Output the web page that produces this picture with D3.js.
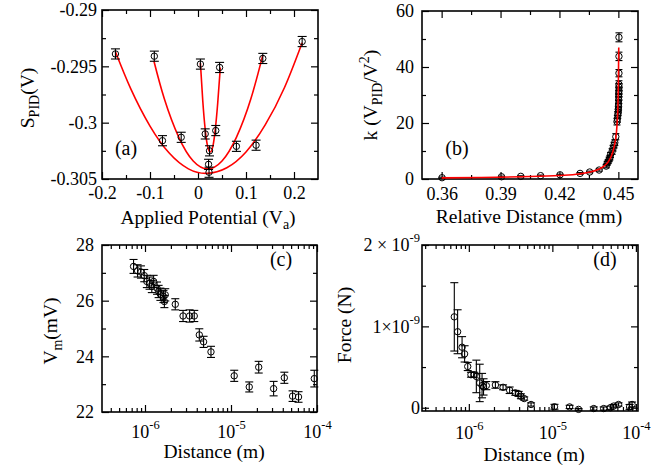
<!DOCTYPE html>
<meta charset="utf-8">
<style>
body { margin: 0; background: #fff; }
svg { font-family: "Liberation Serif", "DejaVu Serif", serif; }
.axis line { stroke: #000; stroke-width: 1.2; }
.axis text { font: 18px "Liberation Serif", serif; fill: #000; }
.title { font-size: 19.5px; fill: #000; }
.plabel { font-size: 20px; fill: #000; }
</style>
<body>
<svg width="672" height="473"></svg>
<script src="https://d3js.org/d3.v7.min.js"></script>
<script>

// ---- panel (a): S_PID vs applied potential, three scans ----
var potWide  = [-0.172, -0.074, 0.023, 0.121, 0.217];
var spidWide = [-0.2939, -0.3016, -0.3044, -0.3020, -0.2928];
var potMid   = [-0.091, -0.035, 0.022, 0.080, 0.135];
var spidMid  = [-0.2941, -0.3013, -0.3037, -0.3021, -0.2943];
var potNar   = [0.005, 0.015, 0.024, 0.037, 0.045];
var spidNar  = [-0.2948, -0.3010, -0.3025, -0.3007, -0.2951];
var spidErr  = 0.00045;

// fitted curves
var fitWideX = [-0.172, -0.14, -0.10, -0.06, -0.02, 0.019, 0.06, 0.10, 0.14, 0.18, 0.217];
var fitWideY = [-0.2937, -0.2970, -0.3003, -0.3027, -0.3041, -0.3045, -0.3040, -0.3026, -0.3002, -0.2969, -0.2929];
var fitMidX  = [-0.092, -0.07, -0.04, -0.01, 0.02, 0.05, 0.08, 0.11, 0.135];
var fitMidY  = [-0.2945, -0.2979, -0.3013, -0.3034, -0.3041, -0.3034, -0.3013, -0.2979, -0.2940];
var fitNarX  = [0.005, 0.010, 0.015, 0.020, 0.0255, 0.031, 0.036, 0.041, 0.0465];
var fitNarY  = [-0.2947, -0.2981, -0.3006, -0.3021, -0.3026, -0.3021, -0.3006, -0.2983, -0.2951];

var xTicksA = [-0.2, -0.1, 0, 0.1, 0.2];
var xLabelsA = ["-0.2", "-0.1", "0", "0.1", "0.2"];
var xMinorA = [-0.15, -0.05, 0.05, 0.15];
var yTicksA = [-0.29, -0.295, -0.3, -0.305];
var yLabelsA = ["-0.29", "-0.295", "-0.3", "-0.305"];
var yMinorA = [-0.2925, -0.2975, -0.3025];

// ---- panel (b): k vs relative distance ----
var relDist = [0.3602, 0.3905, 0.4003, 0.4104, 0.4203, 0.4305, 0.4354, 0.4402, 0.4438, 0.4443,
               0.4448, 0.4453, 0.4457, 0.4460, 0.4468, 0.4473, 0.4478, 0.4482, 0.4487, 0.4493,
               0.4495, 0.4497, 0.4499, 0.4500, 0.4501, 0.4501, 0.4502, 0.4502, 0.4502, 0.4503,
               0.4503, 0.4503, 0.4503, 0.4503, 0.4503];
var kVal    = [0.46, 0.8, 0.95, 1.2, 1.5, 2.0, 2.5, 3.2, 4.6, 5.6,
               6.2, 7.0, 7.6, 8.6, 9.8, 11.0, 12.1, 13.0, 15.1, 20.5,
               21.5, 22.9, 23.8, 24.8, 25.8, 26.8, 28.2, 29.4, 30.5, 31.5,
               32.8, 33.8, 37.8, 43.8, 50.6];
var kErr    = [0.2, 0.2, 0.2, 0.2, 0.2, 0.3, 0.3, 0.4, 0.6, 0.7,
               0.7, 0.8, 0.8, 0.9, 1.0, 1.0, 1.0, 1.0, 1.1, 1.2,
               1.2, 1.2, 1.2, 1.2, 1.2, 1.2, 1.2, 1.2, 1.2, 1.3,
               1.3, 1.3, 1.3, 1.5, 1.6];
var fitBX = [0.36, 0.38, 0.40, 0.42, 0.43, 0.435, 0.44, 0.443, 0.445, 0.447, 0.448, 0.449, 0.4495, 0.4498, 0.4500, 0.4502];
var fitBY = [0.4, 0.55, 0.8, 1.25, 1.8, 2.4, 3.5, 4.8, 6.3, 9.3, 12.0, 16.5, 21.5, 27, 34, 47];

var xTicksB = [0.36, 0.39, 0.42, 0.45];
var xLabelsB = ["0.36", "0.39", "0.42", "0.45"];
var xMinorB = [0.375, 0.405, 0.435];
var yTicksB = [0, 20, 40, 60];
var yLabelsB = ["0", "20", "40", "60"];
var yMinorB = [10, 30, 50];

// ---- panel (c): V_m vs distance ----
var distC = [7.36e-7, 8.2e-7, 8.97e-7, 9.8e-7, 1.05e-6, 1.13e-6, 1.2e-6, 1.26e-6, 1.38e-6, 1.44e-6,
             1.51e-6, 1.64e-6, 1.72e-6, 1.68e-6, 2.25e-6, 2.77e-6, 3.3e-6, 3.74e-6, 4.28e-6, 4.8e-6,
             5.85e-6, 1.09e-5, 1.63e-5, 2.1e-5, 3.13e-5, 4.17e-5, 5.2e-5, 6.1e-5, 9.3e-5];
var vmC   = [27.23, 27.07, 27.03, 26.90, 26.69, 26.63, 26.51, 26.69, 26.45, 26.33,
             26.23, 26.15, 26.21, 25.97, 25.87, 25.45, 25.45, 25.45, 24.77, 24.52,
             24.16, 23.30, 22.90, 23.61, 22.84, 23.23, 22.57, 22.54, 23.20];
var errC  = [0.25, 0.22, 0.22, 0.22, 0.22, 0.22, 0.22, 0.22, 0.22, 0.22,
             0.22, 0.22, 0.22, 0.22, 0.2, 0.2, 0.22, 0.2, 0.22, 0.2,
             0.2, 0.2, 0.18, 0.21, 0.26, 0.2, 0.19, 0.19, 0.3];
var xTicksC = [1e-6, 1e-5, 1e-4];
var xExpC = ["-6", "-5", "-4"];
var yTicksC = [22, 24, 26, 28];
var yLabelsC = ["22", "24", "26", "28"];
var yMinorC = [23, 25, 27];

// ---- panel (d): force vs distance ----
var distD  = [6.7e-7, 7.34e-7, 8.3e-7, 8.9e-7, 9.7e-7, 1.06e-6, 1.16e-6, 1.23e-6, 1.35e-6, 1.44e-6,
              1.5e-6, 1.62e-6, 2.08e-6, 2.57e-6, 3.08e-6, 3.6e-6, 3.95e-6, 4.2e-6, 4.6e-6, 5.56e-6,
              1.06e-5, 1.61e-5, 2.06e-5, 3.13e-5, 4.12e-5, 4.95e-5, 5.4e-5, 6.2e-5, 8.4e-5, 9e-5];
var forceD = [1.117e-9, 0.934e-9, 0.744e-9, 0.662e-9, 0.507e-9, 0.406e-9, 0.406e-9, 0.385e-9, 0.305e-9, 0.272e-9,
              0.256e-9, 0.272e-9, 0.28e-9, 0.251e-9, 0.215e-9, 0.183e-9, 0.171e-9, 0.141e-9, 0.113e-9, 0.04e-9,
              0.012e-9, 0.01e-9, -0.02e-9, -0.01e-9, -0.01e-9, 0.0, 0.02e-9, 0.04e-9, 0.01e-9, 0.04e-9];
var errD   = [0.42e-9, 0.27e-9, 0.13e-9, 0.1e-9, 0.05e-9, 0.03e-9, 0.03e-9, 0.2e-9, 0.23e-9, 0.15e-9,
              0.1e-9, 0.05e-9, 0.04e-9, 0.03e-9, 0.04e-9, 0.03e-9, 0.03e-9, 0.03e-9, 0.02e-9, 0.02e-9,
              0.03e-9, 0.02e-9, 0.01e-9, 0.02e-9, 0.02e-9, 0.02e-9, 0.02e-9, 0.02e-9, 0.03e-9, 0.03e-9];
var xTicksD = [1e-6, 1e-5, 1e-4];
var xExpD = ["-6", "-5", "-4"];
var yTicksD = [0, 1e-9, 2e-9];
var yBaseD = ["0", "1\u00d710", "2 \u00d7 10"];
var yExpD = ["", "-9", "-9"];
var yMinorD = [0.5e-9, 1.5e-9];

var svg = d3.select("svg");

function addAxis(g, axis, tx, ty) {
    var a = g.append("g").attr("class", "axis")
        .attr("transform", "translate(" + tx + "," + ty + ")")
        .call(axis);
    a.select(".domain").remove();
    return a;
}

function supText(sel, base, exp) {
    sel.text(null);
    sel.append("tspan").text(base);
    if (exp) sel.append("tspan").attr("dy", -9).attr("font-size", 12.5).text(exp);
}

function panel(c) {
    var w = c.right - c.left, h = c.bottom - c.top;
    c.x.range([0, w]);
    c.y.range([h, 0]);
    var g = svg.append("g").attr("transform", "translate(" + c.left + "," + c.top + ")");
    var x = c.x, y = c.y;

    // ticks, inward on all four sides
    var bx = addAxis(g, d3.axisBottom(x).tickValues(c.xTicks).tickSize(-7).tickPadding(c.padX)
        .tickFormat(function(d, i) { return c.xLabels ? c.xLabels[i] : ""; }), 0, h);
    addAxis(g, d3.axisBottom(x).tickValues(c.xMinor).tickSize(-4).tickFormat(""), 0, h);
    addAxis(g, d3.axisTop(x).tickValues(c.xTicks).tickSize(-7).tickFormat(""), 0, 0);
    addAxis(g, d3.axisTop(x).tickValues(c.xMinor).tickSize(-4).tickFormat(""), 0, 0);
    var ly = addAxis(g, d3.axisLeft(y).tickValues(c.yTicks).tickSize(-7).tickPadding(c.padY)
        .tickFormat(function(d, i) { return c.yLabels ? c.yLabels[i] : ""; }), 0, 0);
    addAxis(g, d3.axisLeft(y).tickValues(c.yMinor).tickSize(-4).tickFormat(""), 0, 0);
    addAxis(g, d3.axisRight(y).tickValues(c.yTicks).tickSize(-7).tickFormat(""), w, 0);
    addAxis(g, d3.axisRight(y).tickValues(c.yMinor).tickSize(-4).tickFormat(""), w, 0);

    if (c.xExp) bx.selectAll(".tick text").each(function(d, i) { supText(d3.select(this), "10", c.xExp[i]); });
    if (c.yExp) ly.selectAll(".tick text").each(function(d, i) { supText(d3.select(this), c.yBase[i], c.yExp[i]); });

    g.append("rect").attr("width", w).attr("height", h)
        .attr("fill", "none").attr("stroke", "#000").attr("stroke-width", 1.6);
    return g;
}

var line = function(x, y) {
    return d3.line().x(function(d) { return x(d[0]); }).y(function(d) { return y(d[1]); }).curve(d3.curveNatural);
};

function drawFit(g, x, y, xs, ys, curve) {
    g.append("path")
        .datum(xs.map(function(v, i) { return [v, ys[i]]; }))
        .attr("fill", "none").attr("stroke", "#f00").attr("stroke-width", 1.6)
        .attr("d", line(x, y).curve(curve || d3.curveNatural));
}

function drawPoints(g, x, y, xs, ys, es, cap) {
    var pts = xs.map(function(v, i) { return { x: v, y: ys[i], e: Array.isArray(es) ? es[i] : es }; });
    var eg = g.append("g").attr("stroke", "#000").attr("stroke-width", 1.1);
    eg.selectAll("line.v").data(pts).join("line").attr("class", "v")
        .attr("x1", function(d) { return x(d.x); }).attr("x2", function(d) { return x(d.x); })
        .attr("y1", function(d) { return y(d.y - d.e); }).attr("y2", function(d) { return y(d.y + d.e); });
    eg.selectAll("line.t").data(pts).join("line").attr("class", "t")
        .attr("x1", function(d) { return x(d.x) - cap; }).attr("x2", function(d) { return x(d.x) + cap; })
        .attr("y1", function(d) { return y(d.y + d.e); }).attr("y2", function(d) { return y(d.y + d.e); });
    eg.selectAll("line.b").data(pts).join("line").attr("class", "b")
        .attr("x1", function(d) { return x(d.x) - cap; }).attr("x2", function(d) { return x(d.x) + cap; })
        .attr("y1", function(d) { return y(d.y - d.e); }).attr("y2", function(d) { return y(d.y - d.e); });
    g.append("g").selectAll("circle").data(pts).join("circle")
        .attr("cx", function(d) { return x(d.x); }).attr("cy", function(d) { return y(d.y); })
        .attr("r", 3.2).attr("fill", "none").attr("stroke", "#000").attr("stroke-width", 1);
}

function title(x, y, rot, parts) {
    var t = svg.append("text").attr("class", "title").attr("text-anchor", "middle")
        .attr("transform", "translate(" + x + "," + y + ")" + (rot ? " rotate(-90)" : ""));
    parts.forEach(function(p) {
        var s = t.append("tspan").text(p[0]);
        if (p[1]) s.attr("dy", p[1]);
        if (p[2]) s.attr("font-size", p[2]);
    });
}

function plabel(x, y, s) {
    svg.append("text").attr("class", "plabel").attr("text-anchor", "middle")
        .attr("x", x).attr("y", y).text(s);
}

// (a)
var xa = d3.scaleLinear().domain([-0.2, 0.25]);
var ya = d3.scaleLinear().domain([-0.305, -0.29]);
var ga = panel({ left: 102, right: 318, top: 10, bottom: 179, x: xa, y: ya,
    xTicks: xTicksA, xLabels: xLabelsA, xMinor: xMinorA, padX: 7,
    yTicks: yTicksA, yLabels: yLabelsA, yMinor: yMinorA, padY: 5 });
drawFit(ga, xa, ya, fitWideX, fitWideY);
drawFit(ga, xa, ya, fitMidX, fitMidY);
drawFit(ga, xa, ya, fitNarX, fitNarY);
drawPoints(ga, xa, ya, potWide, spidWide, spidErr, 4.5);
drawPoints(ga, xa, ya, potMid, spidMid, spidErr, 4.5);
drawPoints(ga, xa, ya, potNar, spidNar, spidErr, 4.5);

// (b)
var xb = d3.scaleLinear().domain([0.35, 0.46]);
var yb = d3.scaleLinear().domain([0, 60]);
var gb = panel({ left: 422, right: 638, top: 11, bottom: 179, x: xb, y: yb,
    xTicks: xTicksB, xLabels: xLabelsB, xMinor: xMinorB, padX: 8,
    yTicks: yTicksB, yLabels: yLabelsB, yMinor: yMinorB, padY: 8 });
drawPoints(gb, xb, yb, relDist, kVal, kErr, 3.5);
drawFit(gb, xb, yb, fitBX, fitBY, d3.curveMonotoneX);

// (c)
var xc = d3.scaleLog().domain([Math.pow(10, -6.5), 1e-4]);
var yc = d3.scaleLinear().domain([22, 28]);
var gc = panel({ left: 102, right: 317, top: 245, bottom: 412, x: xc, y: yc,
    xTicks: xTicksC, xExp: xExpC, xMinor: xc.ticks().filter(function(d) { return xTicksC.indexOf(d) < 0; }), padX: 13,
    yTicks: yTicksC, yLabels: yLabelsC, yMinor: yMinorC, padY: 8 });
drawPoints(gc, xc, yc, distC, vmC, errC, 4);

// (d)
var xd = d3.scaleLog().domain([2.75e-7, 1.06e-4]);
var yd = d3.scaleLinear().domain([-0.04e-9, 2e-9]);
var gd = panel({ left: 422, right: 638, top: 245, bottom: 411, x: xd, y: yd,
    xTicks: xTicksD, xExp: xExpD, xMinor: xd.ticks().filter(function(d) { return xTicksD.indexOf(d) < 0; }), padX: 15,
    yTicks: yTicksD, yBase: yBaseD, yExp: yExpD, yMinor: yMinorD, padY: 2 });
drawPoints(gd, xd, yd, distD, forceD, errD, 4);

// axis titles
title(208, 224, false, [["Applied Potential (V"], ["a", 5, 14], [")", -5, 19.5]]);
title(33.5, 98, true, [["S"], ["PID", 5, 14], ["(V)", -5, 19.5]]);
title(529, 223, false, [["Relative Distance (mm)"]]);
title(377, 95, true, [["k (V"], ["PID", 5, 14], ["/V", -5, 19.5], ["2", -8, 14], [")", 8, 19.5]]);
title(214, 458, false, [["Distance (m)"]]);
title(57, 331, true, [["V"], ["m", 5, 14], ["(mV)", -5, 19.5]]);
title(534, 461, false, [["Distance (m)"]]);
title(351, 325, true, [["Force (N)"]]);

plabel(126, 155, "(a)");
plabel(457, 155, "(b)");
plabel(281, 266, "(c)");
plabel(605, 266, "(d)");

</script>
